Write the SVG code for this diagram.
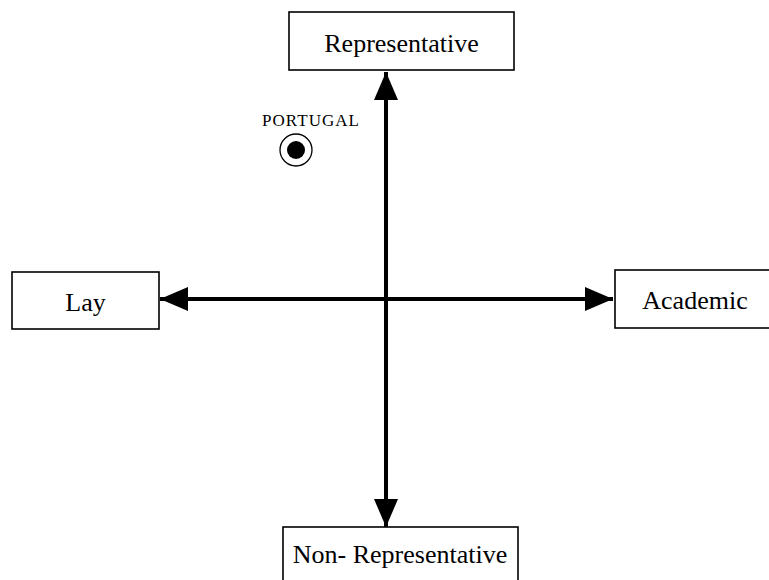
<svg xmlns="http://www.w3.org/2000/svg" width="769" height="580" viewBox="0 0 769 580">
<style>
.box{fill:#fff;stroke:#000;stroke-width:1.6}
.lbl{font-family:"Liberation Serif","Times New Roman",serif;font-size:26px;fill:#000;text-anchor:middle}
.axis{stroke:#000;stroke-width:4;fill:none}
.small{font-family:"Liberation Serif","Times New Roman",serif;font-size:17px;fill:#000}
</style>
<defs>
<marker id="ah" viewBox="0 0 28 24" refX="28" refY="12" markerWidth="28" markerHeight="24" markerUnits="userSpaceOnUse" orient="auto">
<path d="M0,0 L28,12 L0,24 Z" fill="#000"/>
</marker>
</defs>
<g id="connectors">
<line class="axis" x1="386" y1="299" x2="386" y2="72" marker-end="url(#ah)"/>
<line class="axis" x1="386" y1="299" x2="386" y2="527" marker-end="url(#ah)"/>
<line class="axis" x1="386" y1="299" x2="160" y2="299" marker-end="url(#ah)"/>
<line class="axis" x1="386" y1="299" x2="613" y2="299" marker-end="url(#ah)"/>
</g>
<g id="representative">
<rect class="box" x="289" y="12" width="225" height="58"/>
<text class="lbl" x="401.5" y="52">Representative</text>
</g>
<g id="lay">
<rect class="box" x="12" y="272" width="147" height="57"/>
<text class="lbl" x="85.5" y="311">Lay</text>
</g>
<g id="academic">
<rect class="box" x="615" y="270" width="160" height="58"/>
<text class="lbl" x="695" y="309">Academic</text>
</g>
<g id="non-representative">
<rect class="box" x="283" y="527" width="235" height="60"/>
<text class="lbl" x="400" y="563">Non- Representative</text>
</g>
<g id="portugal">
<text class="small" x="262" y="126" textLength="97" lengthAdjust="spacing">PORTUGAL</text>
<circle cx="296" cy="150" r="16" fill="#fff" stroke="#000" stroke-width="1.3"/>
<circle cx="296" cy="150" r="9" fill="#000"/>
</g>
</svg>
